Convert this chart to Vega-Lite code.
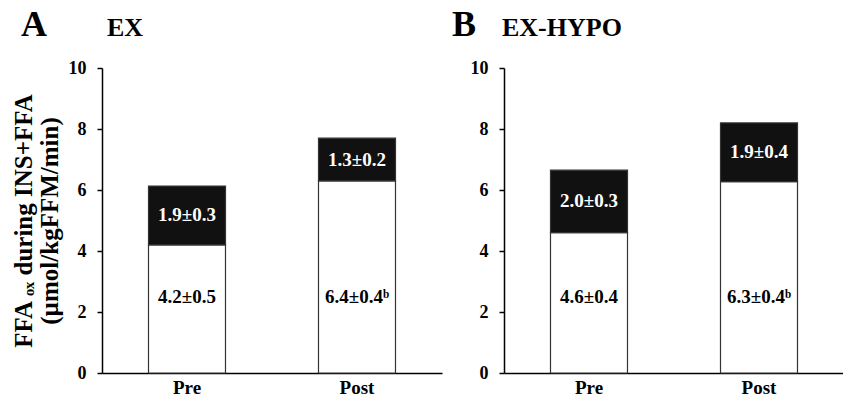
{
  "$schema": "https://vega.github.io/schema/vega-lite/v6.json",
  "padding": {"top": 6, "left": 10, "right": 2, "bottom": 0},
  "background": "white",
  "config": {
    "font": "Liberation Serif",
    "view": {"stroke": null},
    "axis": {"domainColor": "black", "domainWidth": 1.5, "tickColor": "black", "tickWidth": 1.5, "labelColor": "black", "titleColor": "black", "labelFontWeight": "bold", "labelFont": "Liberation Serif", "titleFont": "Liberation Serif", "grid": false},
    "title": {"font": "Liberation Serif", "color": "black", "fontWeight": "bold"}
  },
  "datasets": {
    "bars": [
      {"panel": "A", "time": "Pre", "part": "base", "ord": 1, "value": 4.2, "label": "4.2±0.5"},
      {"panel": "A", "time": "Pre", "part": "top", "ord": 2, "value": 1.93, "label": "1.9±0.3"},
      {"panel": "A", "time": "Post", "part": "base", "ord": 1, "value": 6.3, "label": "6.4±0.4ᵇ"},
      {"panel": "A", "time": "Post", "part": "top", "ord": 2, "value": 1.4, "label": "1.3±0.2"},
      {"panel": "B", "time": "Pre", "part": "base", "ord": 1, "value": 4.6, "label": "4.6±0.4"},
      {"panel": "B", "time": "Pre", "part": "top", "ord": 2, "value": 2.05, "label": "2.0±0.3"},
      {"panel": "B", "time": "Post", "part": "base", "ord": 1, "value": 6.27, "label": "6.3±0.4ᵇ"},
      {"panel": "B", "time": "Post", "part": "top", "ord": 2, "value": 1.93, "label": "1.9±0.4"}
    ]
  },
  "spacing": 10,
  "hconcat": [
    {
      "width": 340,
      "height": 305,
      "title": {"text": "A", "fontSize": 36, "anchor": "start", "dx": 10, "offset": -57, "baseline": "alphabetic"},
      "data": {"name": "bars"},
      "layer": [
        {
          "transform": [
            {"filter": "datum.panel === 'A'"},
            {"stack": "value", "groupby": ["time"], "sort": [{"field": "ord"}], "as": ["v0", "v1"]}
          ],
          "mark": {"type": "bar", "size": 77, "stroke": "#333", "strokeWidth": 1.2},
          "encoding": {
            "x": {"field": "time", "type": "nominal", "sort": ["Pre", "Post"], "axis": {"title": null, "ticks": false, "labelAngle": 0, "labelFontSize": 19, "labelPadding": 5}},
            "y": {"field": "v1", "type": "quantitative", "scale": {"domain": [0, 10]}, "axis": {"values": [0, 2, 4, 6, 8, 10], "tickSize": 5, "labelFontSize": 18, "labelPadding": 11, "title": ["FFA ₒₓ during INS+FFA", "(µmol/kgFFM/min)"], "titleFontSize": 25, "titleFontWeight": "bold", "titleLineHeight": 26, "titlePadding": 6}},
            "y2": {"field": "v0"},
            "color": {"field": "part", "type": "nominal", "scale": {"domain": ["base", "top"], "range": ["white", "#111"]}, "legend": null}
          }
        },
        {
          "transform": [
            {"filter": "datum.panel === 'A'"},
            {"stack": "value", "groupby": ["time"], "sort": [{"field": "ord"}], "as": ["v0", "v1"]},
            {"filter": "datum.part === 'top'"},
            {"calculate": "(datum.v0 + datum.v1) / 2", "as": "mid"}
          ],
          "mark": {"type": "text", "color": "white", "fontSize": 19, "fontWeight": "bold", "baseline": "middle"},
          "encoding": {
            "x": {"field": "time", "type": "nominal", "sort": ["Pre", "Post"]},
            "y": {"field": "mid", "type": "quantitative"},
            "text": {"field": "label"}
          }
        },
        {
          "transform": [{"filter": "datum.panel === 'A' && datum.part === 'base'"}],
          "mark": {"type": "text", "color": "black", "fontSize": 19, "fontWeight": "bold", "baseline": "middle"},
          "encoding": {
            "x": {"field": "time", "type": "nominal", "sort": ["Pre", "Post"]},
            "y": {"datum": 2.5, "type": "quantitative"},
            "text": {"field": "label"}
          }
        },
        {
          "data": {"values": [{"t": "EX"}]},
          "mark": {"type": "text", "align": "left", "baseline": "alphabetic", "fontSize": 26, "fontWeight": "bold", "color": "black", "dx": -80},
          "encoding": {
            "x": {"datum": "Pre", "type": "nominal"},
            "y": {"datum": 11.05, "type": "quantitative"},
            "text": {"field": "t"}
          }
        }
      ]
    },
    {
      "width": 340,
      "height": 305,
      "title": {"text": "B", "fontSize": 36, "anchor": "start", "dx": -18, "offset": -57, "baseline": "alphabetic"},
      "data": {"name": "bars"},
      "layer": [
        {
          "transform": [
            {"filter": "datum.panel === 'B'"},
            {"stack": "value", "groupby": ["time"], "sort": [{"field": "ord"}], "as": ["v0", "v1"]}
          ],
          "mark": {"type": "bar", "size": 77, "stroke": "#333", "strokeWidth": 1.2},
          "encoding": {
            "x": {"field": "time", "type": "nominal", "sort": ["Pre", "Post"], "axis": {"title": null, "ticks": false, "labelAngle": 0, "labelFontSize": 19, "labelPadding": 5}},
            "y": {"field": "v1", "type": "quantitative", "scale": {"domain": [0, 10]}, "axis": {"values": [0, 2, 4, 6, 8, 10], "tickSize": 5, "labelFontSize": 18, "labelPadding": 11, "title": null}},
            "y2": {"field": "v0"},
            "color": {"field": "part", "type": "nominal", "scale": {"domain": ["base", "top"], "range": ["white", "#111"]}, "legend": null}
          }
        },
        {
          "transform": [
            {"filter": "datum.panel === 'B'"},
            {"stack": "value", "groupby": ["time"], "sort": [{"field": "ord"}], "as": ["v0", "v1"]},
            {"filter": "datum.part === 'top'"},
            {"calculate": "(datum.v0 + datum.v1) / 2", "as": "mid"}
          ],
          "mark": {"type": "text", "color": "white", "fontSize": 19, "fontWeight": "bold", "baseline": "middle"},
          "encoding": {
            "x": {"field": "time", "type": "nominal", "sort": ["Pre", "Post"]},
            "y": {"field": "mid", "type": "quantitative"},
            "text": {"field": "label"}
          }
        },
        {
          "transform": [{"filter": "datum.panel === 'B' && datum.part === 'base'"}],
          "mark": {"type": "text", "color": "black", "fontSize": 19, "fontWeight": "bold", "baseline": "middle"},
          "encoding": {
            "x": {"field": "time", "type": "nominal", "sort": ["Pre", "Post"]},
            "y": {"datum": 2.5, "type": "quantitative"},
            "text": {"field": "label"}
          }
        },
        {
          "data": {"values": [{"t": "EX-HYPO"}]},
          "mark": {"type": "text", "align": "left", "baseline": "alphabetic", "fontSize": 26, "fontWeight": "bold", "color": "black", "dx": -87},
          "encoding": {
            "x": {"datum": "Pre", "type": "nominal"},
            "y": {"datum": 11.05, "type": "quantitative"},
            "text": {"field": "t"}
          }
        }
      ]
    }
  ]
}
